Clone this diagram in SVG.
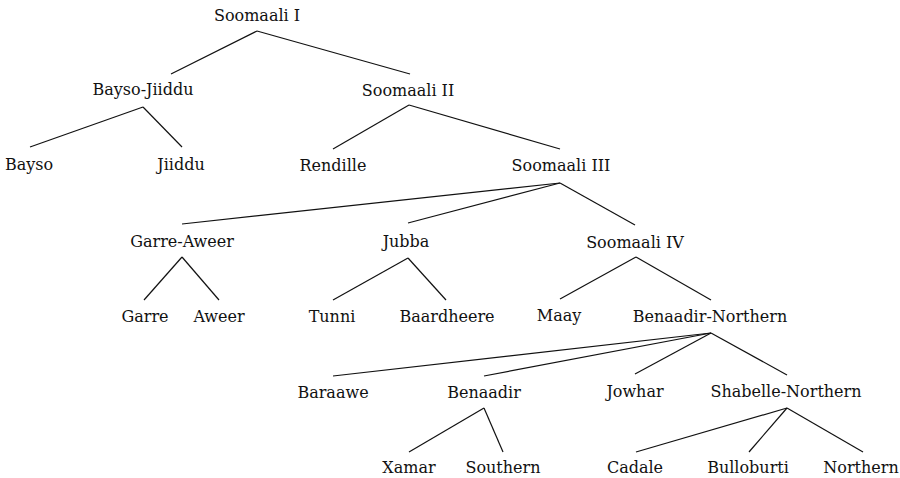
<svg xmlns="http://www.w3.org/2000/svg" width="900" height="478" viewBox="0 0 900 478">
<style>
text{font-family:"DejaVu Serif","Liberation Serif",serif;font-size:16px;fill:#111;text-anchor:middle}
.e line{stroke:#111;stroke-width:1.2}
</style>
<rect width="900" height="478" fill="#fff"/>
<g class="e" id="connectors">
<line x1="257" y1="31" x2="171" y2="74"/>
<line x1="257" y1="31" x2="410" y2="74"/>
<line x1="143" y1="107" x2="30" y2="147"/>
<line x1="143" y1="107" x2="182" y2="147"/>
<line x1="409" y1="105" x2="333" y2="149"/>
<line x1="409" y1="105" x2="560" y2="149"/>
<line x1="560" y1="183" x2="182" y2="224"/>
<line x1="560" y1="183" x2="408" y2="223"/>
<line x1="560" y1="183" x2="635" y2="225"/>
<line x1="182" y1="257" x2="144" y2="300"/>
<line x1="182" y1="257" x2="219" y2="300"/>
<line x1="408" y1="258" x2="333" y2="300"/>
<line x1="408" y1="258" x2="446" y2="300"/>
<line x1="636" y1="257" x2="560" y2="299"/>
<line x1="636" y1="257" x2="711" y2="300"/>
<line x1="711" y1="333" x2="333" y2="376"/>
<line x1="711" y1="333" x2="484" y2="376"/>
<line x1="711" y1="333" x2="635" y2="374"/>
<line x1="711" y1="333" x2="787" y2="375"/>
<line x1="484" y1="408" x2="409" y2="452"/>
<line x1="484" y1="408" x2="503" y2="452"/>
<line x1="787" y1="408" x2="636" y2="452"/>
<line x1="787" y1="408" x2="749" y2="452"/>
<line x1="787" y1="408" x2="863" y2="452"/>
</g>
<g id="soomaali1"><text x="257" y="21">Soomaali I</text></g>
<g id="baysojiiddu"><text x="143" y="95">Bayso-Jiiddu</text></g>
<g id="soomaali2"><text x="408" y="96">Soomaali II</text></g>
<g id="bayso"><text x="29" y="170">Bayso</text></g>
<g id="jiiddu"><text x="181" y="170">Jiiddu</text></g>
<g id="rendille"><text x="333" y="171">Rendille</text></g>
<g id="soomaali3"><text x="561" y="171">Soomaali III</text></g>
<g id="garreaweer"><text x="182" y="247">Garre-Aweer</text></g>
<g id="jubba"><text x="406" y="247">Jubba</text></g>
<g id="soomaali4"><text x="635" y="248">Soomaali IV</text></g>
<g id="garre"><text x="145" y="322">Garre</text></g>
<g id="aweer"><text x="219" y="322">Aweer</text></g>
<g id="tunni"><text x="332" y="322">Tunni</text></g>
<g id="baardheere"><text x="447" y="322">Baardheere</text></g>
<g id="maay"><text x="559" y="321">Maay</text></g>
<g id="benaadirnorthern"><text x="710" y="322">Benaadir-Northern</text></g>
<g id="baraawe"><text x="333" y="398">Baraawe</text></g>
<g id="benaadir"><text x="484" y="398">Benaadir</text></g>
<g id="jowhar"><text x="635" y="397">Jowhar</text></g>
<g id="shabellenorthern"><text x="786" y="397">Shabelle-Northern</text></g>
<g id="xamar"><text x="409" y="473">Xamar</text></g>
<g id="southern"><text x="503" y="473">Southern</text></g>
<g id="cadale"><text x="635" y="473">Cadale</text></g>
<g id="bulloburti"><text x="748" y="473">Bulloburti</text></g>
<g id="northern"><text x="861" y="473">Northern</text></g>
</svg>
